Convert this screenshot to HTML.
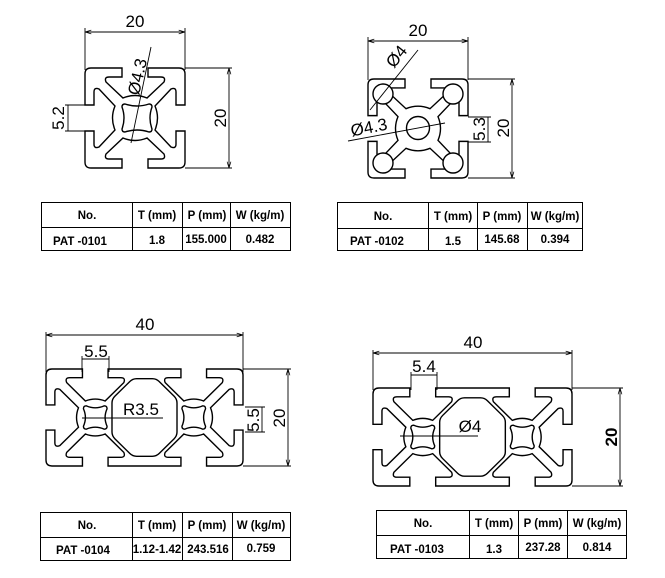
<!DOCTYPE html>
<html><head><style>
html,body{margin:0;padding:0;background:#fff;}
svg{display:block;}
text{font-family:"Liberation Sans",Arial,sans-serif;fill:#000;}
.t{font-size:11.5px;font-weight:bold;}
.d{font-size:17px;}
</style></head><body>
<svg width="665" height="578" viewBox="0 0 665 578" xmlns="http://www.w3.org/2000/svg">
<defs>
<marker id="a" viewBox="0 0 10 10" refX="10" refY="5" markerWidth="7" markerHeight="7" orient="auto-start-reverse"><path d="M0,2 L10,5 L0,8" fill="none" stroke="#000" stroke-width="1.2"/></marker>
<path id="cell" d="M0,6 Q0,0 6,0 L37,0 L37,9 L24,9 Q19,9 21,14 L38,30 Q50,25 62,30 L79,14 Q81,9 76,9 L63,9 L63,0 L94,0 Q100,0 100,6 L100,37 L91,37 L91,24 Q91,19 86,21 L70,38 Q75,50 70,62 L86,79 Q91,81 91,76 L91,63 L100,63 L100,94 Q100,100 94,100 L63,100 L63,91 L76,91 Q81,91 79,86 L62,70 Q50,75 38,70 L21,86 Q19,91 24,91 L37,91 L37,100 L6,100 Q0,100 0,94 L0,63 L9,63 L9,76 Q9,81 14,79 L30,62 Q25,50 30,38 L14,21 Q9,19 9,24 L9,37 L0,37 Z"/>
<path id="long" d="M0,6 Q0,0 6,0 L37,0 L37,9 L24,9 Q19,9 21,14 L40,33 Q50,29 60,33 L79,14 Q81,9 76,9 L63,9 L63,0 L137,0 L137,9 L124,9 Q119,9 121,14 L140,33 Q150,29 160,33 L179,14 Q181,9 176,9 L163,9 L163,0 L194,0 Q200,0 200,6 L200,37 L191,37 L191,24 Q191,19 186,21 L167,40 Q171,50 167,60 L186,79 Q191,81 191,76 L191,63 L200,63 L200,94 Q200,100 194,100 L163,100 L163,91 L176,91 Q181,91 179,86 L160,67 Q150,71 140,67 L121,86 Q119,91 124,91 L137,91 L137,100 L63,100 L63,91 L76,91 Q81,91 79,86 L60,67 Q50,71 40,67 L21,86 Q19,91 24,91 L37,91 L37,100 L6,100 Q0,100 0,94 L0,63 L9,63 L9,76 Q9,81 14,79 L33,60 Q29,50 33,40 L14,21 Q9,19 9,24 L9,37 L0,37 Z M92,10 L108,10 Q112,10 115,13 L130,28 Q133,31 133,35 L133,65 Q133,69 130,72 L115,87 Q112,90 108,90 L92,90 Q88,90 85,87 L70,72 Q67,69 67,65 L67,35 Q67,31 70,28 L85,13 Q88,10 92,10 Z M38,41 Q38,38 41,38 Q50,42 59,38 Q62,38 62,41 Q58,50 62,59 Q62,62 59,62 Q50,58 41,62 Q38,62 38,59 Q42,50 38,41 Z M138,41 Q138,38 141,38 Q150,42 159,38 Q162,38 162,41 Q158,50 162,59 Q162,62 159,62 Q150,58 141,62 Q138,62 138,59 Q142,50 138,41 Z"/>
</defs>
<g fill="#fff" stroke="#000" stroke-width="1.4" fill-rule="evenodd">
<use href="#cell" transform="translate(85,68)"/>
<path d="M122,107 Q122,104 125,104 Q137,108 149,104 Q152,104 152,107 Q148,118 152,129 Q152,132 149,132 Q137,128 125,132 Q122,132 122,129 Q126,118 122,107 Z"/>
<use href="#cell" transform="translate(368,79) scale(1,0.99)"/>
<circle cx="383" cy="94" r="10"/><circle cx="453" cy="94" r="10"/><circle cx="383" cy="163" r="10"/><circle cx="453" cy="163" r="10"/>
<circle cx="418" cy="128" r="11.5"/>
<use href="#long" transform="translate(46,369) scale(0.985,0.97)" stroke-width="1.42"/>
<use href="#long" transform="translate(373,388) scale(0.995,0.98)" stroke-width="1.42"/>
</g>
<g stroke="#000" stroke-width="0.9" fill="none">
<line x1="85" y1="28" x2="85" y2="70"/><line x1="185" y1="28" x2="185" y2="70"/>
<line x1="85" y1="32" x2="185" y2="32" marker-start="url(#a)" marker-end="url(#a)"/>
<line x1="185" y1="68" x2="232" y2="68"/><line x1="185" y1="168" x2="232" y2="168"/>
<line x1="229" y1="68" x2="229" y2="168" marker-start="url(#a)" marker-end="url(#a)"/>
<line x1="65" y1="105" x2="85" y2="105"/><line x1="65" y1="131" x2="85" y2="131"/>
<line x1="68" y1="105" x2="68" y2="131"/>
<line x1="131" y1="143" x2="151" y2="47"/>
<line x1="368" y1="37" x2="368" y2="80"/><line x1="468" y1="37" x2="468" y2="80"/>
<line x1="368" y1="41" x2="468" y2="41" marker-start="url(#a)" marker-end="url(#a)"/>
<line x1="468" y1="79" x2="515" y2="79"/><line x1="468" y1="178" x2="515" y2="178"/>
<line x1="512" y1="79" x2="512" y2="178" marker-start="url(#a)" marker-end="url(#a)"/>
<line x1="468" y1="117" x2="491" y2="117"/><line x1="468" y1="142" x2="491" y2="142"/>
<line x1="488" y1="117" x2="488" y2="142"/>
<line x1="370" y1="110" x2="418" y2="50"/>
<line x1="348" y1="141" x2="445" y2="123"/>
<line x1="46" y1="332" x2="46" y2="372"/><line x1="243" y1="332" x2="243" y2="372"/>
<line x1="46" y1="335" x2="243" y2="335" marker-start="url(#a)" marker-end="url(#a)"/>
<line x1="82" y1="356" x2="82" y2="372"/><line x1="109" y1="356" x2="109" y2="372"/>
<line x1="82" y1="359" x2="109" y2="359"/>
<line x1="243" y1="369" x2="291" y2="369"/><line x1="243" y1="466" x2="291" y2="466"/>
<line x1="288" y1="369" x2="288" y2="466" marker-start="url(#a)" marker-end="url(#a)"/>
<line x1="245" y1="407" x2="265" y2="407"/><line x1="245" y1="432" x2="265" y2="432"/>
<line x1="262" y1="407" x2="262" y2="432"/>
<line x1="82" y1="418" x2="163" y2="418"/>
<line x1="373" y1="350" x2="373" y2="390"/><line x1="572" y1="350" x2="572" y2="390"/>
<line x1="373" y1="353" x2="572" y2="353" marker-start="url(#a)" marker-end="url(#a)"/>
<line x1="411" y1="372" x2="411" y2="390"/><line x1="437" y1="372" x2="437" y2="390"/>
<line x1="411" y1="375" x2="437" y2="375"/>
<line x1="572" y1="388" x2="623" y2="388"/><line x1="572" y1="486" x2="623" y2="486"/>
<line x1="620" y1="388" x2="620" y2="486" marker-start="url(#a)" marker-end="url(#a)"/>
<line x1="400" y1="436" x2="478" y2="436"/>
</g>
<text class="d" x="135" y="27" text-anchor="middle">20</text>
<text class="d" transform="translate(226,118) rotate(-90)" text-anchor="middle">20</text>
<text class="d" transform="translate(64,118) rotate(-90)" text-anchor="middle">5.2</text>
<text class="d" transform="translate(143,78) rotate(-77)" text-anchor="middle">Ø4.3</text>
<text class="d" x="418" y="36" text-anchor="middle">20</text>
<text class="d" transform="translate(509,128) rotate(-90)" text-anchor="middle">20</text>
<text class="d" transform="translate(485,129) rotate(-90)" text-anchor="middle">5.3</text>
<text class="d" transform="translate(401,60) rotate(-51)" text-anchor="middle">Ø4</text>
<text class="d" transform="translate(370,133) rotate(-11)" text-anchor="middle">Ø4.3</text>
<text class="d" x="145" y="330" text-anchor="middle">40</text>
<text class="d" x="96" y="357" text-anchor="middle">5.5</text>
<text class="d" transform="translate(285,418) rotate(-90)" text-anchor="middle">20</text>
<text class="d" transform="translate(259,420) rotate(-90)" text-anchor="middle">5.5</text>
<text class="d" x="141" y="415" text-anchor="middle">R3.5</text>
<text class="d" x="473" y="348" text-anchor="middle">40</text>
<text class="d" x="424" y="372" text-anchor="middle">5.4</text>
<text class="d" transform="translate(617,437) rotate(-90)" text-anchor="middle" font-weight="bold">20</text>
<text class="d" x="470" y="432" text-anchor="middle">Ø4</text>
<g stroke="#000" stroke-width="1" fill="none">
<rect x="41.5" y="202.5" width="249" height="48"/><line x1="41" y1="227.5" x2="291" y2="227.5"/>
<line x1="132.5" y1="202" x2="132.5" y2="251"/><line x1="182.5" y1="202" x2="182.5" y2="251"/><line x1="230.5" y1="202" x2="230.5" y2="251"/>
<rect x="337.5" y="202.5" width="245" height="48"/><line x1="337" y1="228.5" x2="583" y2="228.5"/>
<line x1="428.5" y1="202" x2="428.5" y2="251"/><line x1="477.5" y1="202" x2="477.5" y2="251"/><line x1="527.5" y1="202" x2="527.5" y2="251"/>
<rect x="40.5" y="512.5" width="250" height="48"/><line x1="40" y1="537.5" x2="291" y2="537.5"/>
<line x1="132.5" y1="512" x2="132.5" y2="561"/><line x1="182.5" y1="512" x2="182.5" y2="561"/><line x1="232.5" y1="512" x2="232.5" y2="561"/>
<rect x="376.5" y="510.5" width="250" height="48"/><line x1="376" y1="535.5" x2="627" y2="535.5"/>
<line x1="469.5" y1="510" x2="469.5" y2="559"/><line x1="518.5" y1="510" x2="518.5" y2="559"/><line x1="567.5" y1="510" x2="567.5" y2="559"/>
</g>
<g text-anchor="middle">
<text class="t" x="87" y="219">No.</text><text class="t" x="157" y="219">T (mm)</text><text class="t" x="207" y="219">P (mm)</text><text class="t" x="260" y="219">W (kg/m)</text>
<text class="t" x="80" y="245">PAT -0101</text><text class="t" x="157" y="244">1.8</text><text class="t" x="206" y="243">155.000</text><text class="t" x="260" y="243">0.482</text>
<text class="t" x="383" y="220">No.</text><text class="t" x="453" y="220">T (mm)</text><text class="t" x="502" y="220">P (mm)</text><text class="t" x="555" y="220">W (kg/m)</text>
<text class="t" x="377" y="245">PAT -0102</text><text class="t" x="453" y="245">1.5</text><text class="t" x="502" y="243">145.68</text><text class="t" x="555" y="243">0.394</text>
<text class="t" x="87" y="529">No.</text><text class="t" x="157" y="529">T (mm)</text><text class="t" x="207" y="529">P (mm)</text><text class="t" x="261" y="529">W (kg/m)</text>
<text class="t" x="83" y="554">PAT -0104</text><text class="t" x="157" y="553">1.12-1.42</text><text class="t" x="208" y="553">243.516</text><text class="t" x="261" y="552">0.759</text>
<text class="t" x="423" y="527">No.</text><text class="t" x="494" y="527">T (mm)</text><text class="t" x="543" y="527">P (mm)</text><text class="t" x="597" y="527">W (kg/m)</text>
<text class="t" x="417" y="553">PAT -0103</text><text class="t" x="494" y="553">1.3</text><text class="t" x="543" y="551">237.28</text><text class="t" x="597" y="551">0.814</text>
</g>
</svg>
</body></html>
